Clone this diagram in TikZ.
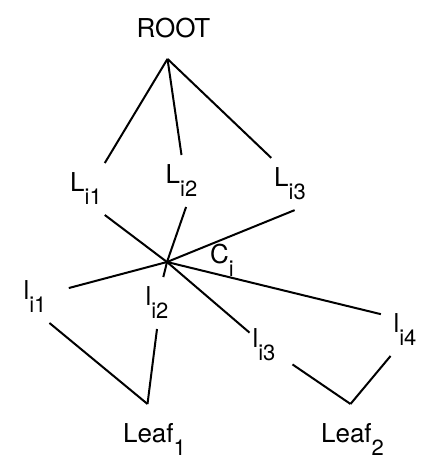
\documentclass[tikz,border=0pt]{standalone}
\usepackage{fontspec}
\setmainfont{TeX Gyre Heros}
\usepackage{tikz}
\newcommand{\lowidx}[1]{\raisebox{-13pt}{\fontsize{22}{22}\selectfont #1}}

\begin{document}
\begin{tikzpicture}[x=1pt,y=-1pt,line width=2pt,
  every node/.style={font=\fontsize{26}{30}\selectfont,inner xsep=2pt,inner ysep=9pt},
  leaf/.style={inner ysep=18pt}]
\useasboundingbox (0,0) rectangle (443,474);
\node[inner ysep=20pt] (root) at (173.5,28) {ROOT};
\node (Li1) at (86,189) {L\lowidx{i1}};
\node (Li2) at (181.5,181) {L\lowidx{i2}};
\node (Li3) at (290,184) {L\lowidx{i3}};
\coordinate (c) at (167,262);
\node (ci) at (222,260) {C\lowidx{i}};
\node (li1) at (35,297) {l\lowidx{i1}};
\node (li2) at (157,303) {l\lowidx{i2}};
\node (li3) at (264,345) {l\lowidx{i3}};
\node (li4) at (405,330) {l\lowidx{i4}};
\node[leaf] (leaf1) at (154.5,439) {Leaf\lowidx{1}};
\node[leaf] (leaf2) at (352.5,439) {Leaf\lowidx{2}};
\draw ([xshift=-6pt]root.south) -- (Li1.north east);
\draw ([xshift=-6pt]root.south) -- (Li2.north);
\draw ([xshift=-6pt]root.south) -- (Li3.north west);
\draw (c) -- (Li1.south east);
\draw (c) -- (Li2.-80);
\draw (c) -- (Li3.-80);
\draw[shorten >=20pt] (c) -- (li1);
\draw (c) -- (li2);
\draw (c) -- (li3);
\draw[shorten >=10pt] (c) -- (li4.137);
\draw (li1.south east) -- ([xshift=-7pt]leaf1.north);
\draw (li2.south) -- ([xshift=-7pt]leaf1.north);
\draw[shorten <=17pt] (li3) -- ([xshift=-2pt]leaf2.north);
\draw (li4.south west) -- ([xshift=-2pt]leaf2.north);
\end{tikzpicture}
\end{document}
